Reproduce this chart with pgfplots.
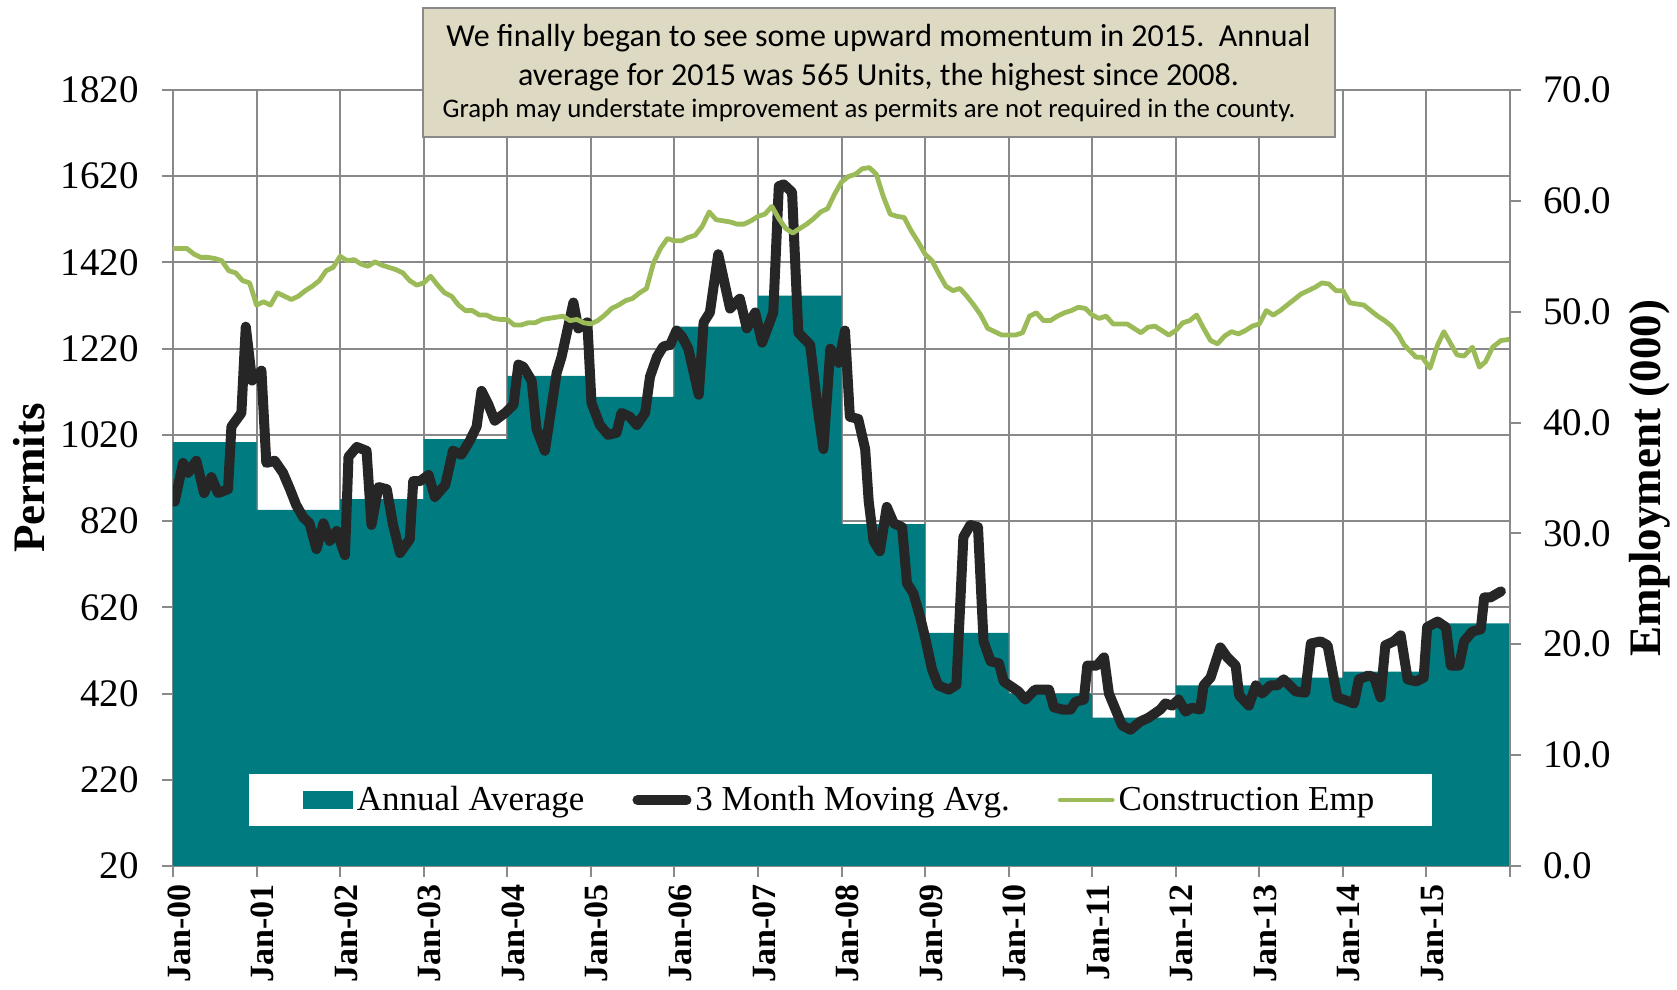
\documentclass[border=0pt]{standalone}
\usepackage{fontspec}
\setmainfont{Liberation Serif}
\newfontfamily\carlito{Carlito}
\usepackage{pgfplots}
\pgfplotsset{compat=1.18}
\definecolor{mteal}{HTML}{007C80}
\definecolor{mblack}{HTML}{262626}
\definecolor{mgreen}{HTML}{9BBB59}
\definecolor{mgrid}{HTML}{898989}
\definecolor{mbeige}{HTML}{DDD9C3}
\pgfplotsset{
  every tick label/.append style={font=\fontsize{19.5}{19.5}\selectfont},
  /pgf/number format/assume math mode=true,
  /pgf/number format/1000 sep={},
}
\begin{document}
\begin{tikzpicture}
\useasboundingbox (0,0) rectangle (838.5pt,495pt);
\begin{axis}[
  at={(86.5pt,62pt)}, anchor=south west,
  width=668.5pt, height=388pt, scale only axis,
  xmin=0, xmax=192, ymin=20, ymax=1820,
  xtick={0,12,...,192},
  xticklabels={Jan-00,Jan-01,Jan-02,Jan-03,Jan-04,Jan-05,Jan-06,Jan-07,Jan-08,Jan-09,Jan-10,Jan-11,Jan-12,Jan-13,Jan-14,Jan-15,{}},
  xticklabel style={rotate=90, anchor=east, yshift=-3pt, font=\bfseries\fontsize{17}{17}\selectfont},
  yticklabel style={xshift=-8pt},
  ytick={20,220,...,1820},
  grid=major,
  grid style={draw=mgrid, line width=1pt},
  axis line style={draw=mgrid, line width=1pt},
  tick style={draw=mgrid, line width=1pt},
  tick align=outside,
  major tick length=5.5pt,
  xtick pos=left, ytick pos=left,
  ylabel={Permits},
  ylabel style={font=\bfseries\fontsize{22.5}{22.5}\selectfont, at={(axis description cs:-0.1077,0.5)}, anchor=center},
  legend columns=3,
  legend style={at={(0.4993,0.085)}, anchor=center, draw=none, fill=white,
    font=\fontsize{17.5}{17.5}\selectfont, inner xsep=27pt, inner ysep=4pt,
    /tikz/every even column/.append style={column sep=22pt}},
]
\addplot[const plot, fill=mteal, draw=none,
  legend image code/.code={\fill[mteal] (0pt,-4.5pt) rectangle (25pt,4.5pt);}]
  coordinates {(0,1003) (12,846) (24,871) (36,1010) (48,1157) (60,1108) (72,1271) (84,1343) (96,813) (108,561) (120,420) (132,364) (144,439) (156,457) (168,471) (180,583) (192,583)} \closedcycle;
\addlegendentry{Annual Average}
\addplot[mblack, line width=5pt, line join=round, line cap=round,
  legend image code/.code={\draw[mblack, line width=5pt, line cap=round] (2.5pt,0pt) -- (27pt,0pt);}]
  coordinates {
(0.24,865) (1.44,955) (2.16,932) (3.35,960) (4.46,885) (5.51,922) (6.47,885) (7.9,894) (8.39,1039) (9.82,1071)
(10.45,1271) (11.36,1146) (12.7,1169) (13.4,955) (14.6,960) (15.8,932) (16.8,894) (17.7,857) (18.7,829) (19.6,815)
(20.6,755) (21.6,815) (22.5,774) (23.5,797) (24.7,741) (25.2,969) (26.4,992) (27.8,983) (28.5,811) (29.5,899)
(30.7,894) (31.6,811) (32.6,746) (34.0,778) (34.5,913) (35.5,913) (36.7,927) (37.6,876) (39.1,904) (40.2,983)
(41.4,974) (42.6,1006) (43.6,1039) (44.3,1122) (45.3,1090) (46.2,1053) (47.7,1071)
(48.9,1090) (49.6,1183) (50.3,1178) (51.5,1146) (52.2,1034) (53.4,983) (55.1,1164) (55.8,1201) (57.5,1327) (58.2,1267)
(59.5,1281) (60.1,1094) (61.3,1043) (62.5,1020) (63.7,1025) (64.4,1071) (65.6,1062) (66.6,1043) (67.8,1071) (68.5,1155)
(69.5,1201) (70.4,1225) (71.4,1229) (72.3,1262) (73.1,1248) (74.0,1220) (75.5,1113) (76.2,1281) (77.1,1304) (78.3,1439)
(80.0,1313) (81.4,1336) (82.4,1267) (83.6,1304) (84.6,1234) (86.2,1304) (87.0,1597) (87.7,1601) (88.9,1583) (89.8,1257)
(91.5,1229) (92.5,1090) (93.4,987) (94.4,1220) (95.6,1187)
(96.5,1262) (97.2,1062) (98.4,1057) (99.4,987) (99.9,867) (100.6,774) (101.5,750) (102.5,853) (103.5,815) (104.7,806)
(105.4,676) (106.3,653) (107.3,597) (108.0,550) (109.0,476) (109.9,439) (111.4,429) (112.5,440) (113.5,783) (114.5,811)
(115.6,806) (116.4,541) (117.4,495) (118.6,490) (119.3,448) (121.4,425) (122.4,406) (123.8,429) (125.8,429) (126.5,388)
(127.7,383) (128.9,383) (129.6,401) (130.8,406) (131.3,485) (132.7,485) (133.7,504) (134.4,420) (136.3,346) (137.5,336)
(138.9,355) (140.1,364) (141.8,383) (142.5,397) (143.5,392)
(144.4,406) (145.4,378) (146.3,387) (147.5,383) (148.0,439) (149.0,457) (150.4,527) (151.4,504) (152.6,485) (153.1,416)
(154.5,392) (155.5,439) (156.4,420) (157.6,439) (158.6,439) (159.5,453) (161.2,425) (162.6,422) (163.4,536) (164.8,541)
(165.8,532) (167.2,411) (168.6,403) (169.6,397) (170.3,453) (171.7,462) (172.5,457) (173.4,411) (174.1,532) (175.3,541)
(176.3,555) (177.3,453) (178.5,448) (179.6,457) (180.1,574) (181.6,587) (182.8,574) (183.5,485) (184.7,485) (185.4,541)
(186.6,564) (187.8,569) (188.3,643) (189.2,643) (190.7,657)
  };
\addlegendentry{3 Month Moving Avg.}
\addlegendimage{mgreen, line width=2.4pt,
  legend image code/.code={\draw[mgreen, line width=2.4pt, line cap=round] (0pt,0pt) -- (26pt,0pt);}}
\addlegendentry{Construction Emp}
\end{axis}
\begin{axis}[
  at={(86.5pt,62pt)}, anchor=south west,
  width=668.5pt, height=388pt, scale only axis,
  xmin=0, xmax=192, ymin=0, ymax=70,
  axis x line=none, axis y line*=right,
  ytick={0,10,...,70},
  yticklabel style={xshift=7.5pt, /pgf/number format/.cd, fixed, fixed zerofill, precision=1},
  axis line style={draw=mgrid, line width=1pt},
  tick style={draw=mgrid, line width=1pt},
  tick align=outside,
  major tick length=5.5pt,
  ylabel={Employment (000)},
  ylabel style={font=\bfseries\fontsize{22.5}{22.5}\selectfont, at={(axis description cs:1.1047,0.5)}, anchor=center, rotate=0},
]
\addplot[mgreen, line width=2.4pt, line join=round] coordinates {
(0,55.7) (1,55.7) (2,55.7) (3,55.2) (4,54.9) (5,54.9) (6,54.8) (7,54.6) (8,53.7) (9,53.5)
(10,52.8) (11,52.6) (12,50.6) (13,50.9) (14,50.6) (15,51.7) (16,51.4) (17,51.1) (18,51.4) (19,51.9)
(20,52.3) (21,52.8) (22,53.7) (23,54.0) (24,55.0) (25,54.6) (26,54.7) (27,54.3) (28,54.1) (29,54.5)
(30,54.2) (31,54.0) (32,53.8) (33,53.5) (34,52.8) (35,52.4) (36,52.6) (37,53.2) (38,52.4) (39,51.7)
(40,51.4) (41,50.6) (42,50.1) (43,50.1) (44,49.7) (45,49.7) (46,49.4) (47,49.3) (48,49.3) (49,48.8)
(50,48.8) (51,49.0) (52,49.0) (53,49.3) (54,49.4) (55,49.5) (56,49.6) (57,49.2) (58,49.3) (59,49.0)
(60,48.9) (61,49.2) (62,49.7) (63,50.3) (64,50.6) (65,51.0) (66,51.2) (67,51.7) (68,52.1) (69,54.4)
(70,55.7) (71,56.6) (72,56.4) (73,56.4) (74,56.7) (75,56.9) (76,57.7) (77,59.0) (78,58.3) (79,58.2)
(80,58.1) (81,57.9) (82,57.9) (83,58.2) (84,58.6) (85,58.8) (86,59.5) (87,58.4) (88,57.5) (89,57.1)
(90,57.5) (91,57.9) (92,58.4) (93,59.0) (94,59.3) (95,60.6) (96,61.7) (97,62.2) (98,62.4) (99,62.9)
(100,63.0) (101,62.4) (102,60.4) (103,58.8) (104,58.6) (105,58.5) (106,57.3) (107,56.3) (108,55.2) (109,54.6)
(110,53.4) (111,52.3) (112,51.9) (113,52.1) (114,51.4) (115,50.6) (116,49.7) (117,48.5) (118,48.2) (119,47.9)
(120,47.9) (121,47.9) (122,48.1) (123,49.6) (124,49.9) (125,49.2) (126,49.2) (127,49.6) (128,49.9) (129,50.1)
(130,50.4) (131,50.3) (132,49.7) (133,49.4) (134,49.6) (135,48.9) (136,48.9) (137,48.9) (138,48.5) (139,48.1)
(140,48.6) (141,48.7) (142,48.3) (143,47.9) (144,48.3) (145,49.0) (146,49.2) (147,49.7) (148,48.5) (149,47.4)
(150,47.1) (151,47.8) (152,48.2) (153,48.0) (154,48.3) (155,48.7) (156,48.9) (157,50.1) (158,49.7) (159,50.1)
(160,50.6) (161,51.1) (162,51.6) (163,51.9) (164,52.2) (165,52.6) (166,52.5) (167,51.9) (168,51.9) (169,50.8)
(170,50.7) (171,50.6) (172,50.1) (173,49.6) (174,49.2) (175,48.7) (176,47.9) (176.8,47.0) (178.5,45.9) (179.4,45.9)
(180.5,44.9) (181.6,47.0) (182.5,48.2) (184.4,46.1) (185.4,46.0) (186.6,46.8) (187.6,45.0) (188.5,45.5) (189.5,46.8) (190.7,47.4)
(191.9,47.5)
};
\end{axis}
\filldraw[fill=mbeige, draw=mgrid, line width=1pt] (211.3pt,426.5pt) rectangle (667.5pt,491pt);
\node[anchor=base, inner sep=0pt, font=\carlito\fontsize{16}{16}\selectfont] at (439.25pt,471.5pt) {We finally began to see some upward momentum in 2015.\ \ Annual};
\node[anchor=base, inner sep=0pt, font=\carlito\fontsize{16}{16}\selectfont] at (439.25pt,452pt) {average for 2015 was 565 Units, the highest since 2008.};
\node[anchor=base, inner sep=0pt, font=\carlito\fontsize{13.4}{13.4}\selectfont] at (434.5pt,436pt) {Graph may understate improvement as permits are not required in the county.};
\end{tikzpicture}
\end{document}
